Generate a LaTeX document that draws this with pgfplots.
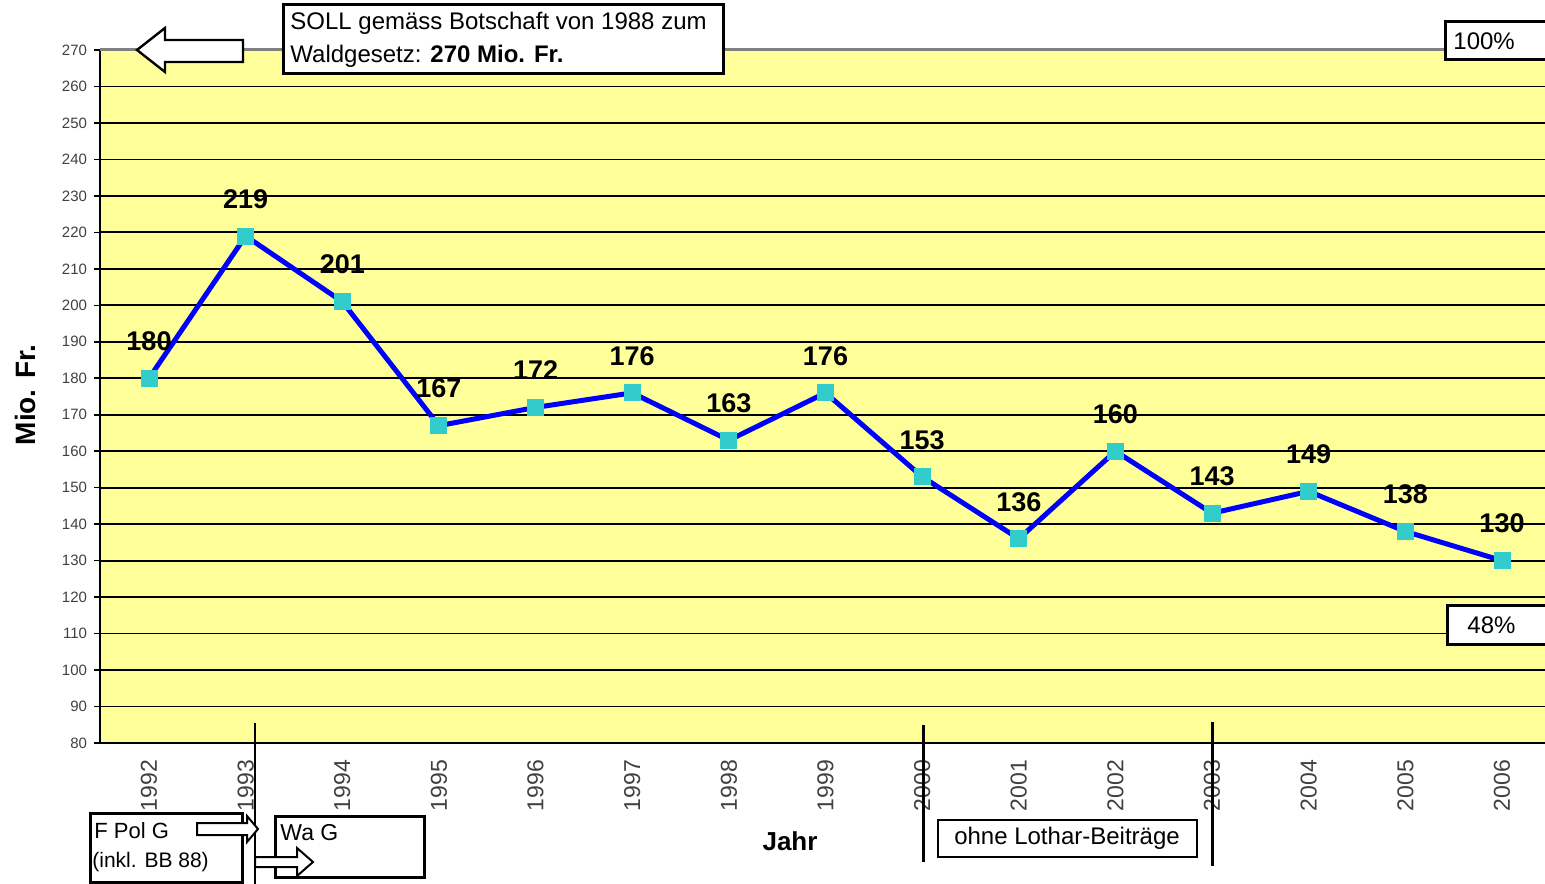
\documentclass[border=0pt]{standalone}
\usepackage{fontspec}
\setmainfont{Liberation Sans}
\usepackage{pgfplots}
\pgfplotsset{compat=1.18}
\definecolor{plotbg}{HTML}{FFFF99}
\definecolor{markcyan}{HTML}{33CCCC}
\definecolor{tickgray}{HTML}{404040}

\begin{document}
\begin{tikzpicture}
\useasboundingbox (0,0) rectangle (772.5pt,441.5pt);
\begin{axis}[
  at={(50pt,70pt)}, anchor=south west,
  width=722.5pt, height=346.5pt, scale only axis,
  xmin=1991.493, xmax=2006.445, ymin=80, ymax=270,
  axis background/.style={fill=plotbg},
  axis x line*=bottom, axis y line*=left,
  axis line style={-, black, line width=1pt},
  ytick={80,90,...,270}, xtick={1992,1993,...,2006},
  ymajorgrids, major grid style={black, line width=0.9pt},
  tick align=outside, major tick length=3pt,
  xtick style={draw=none}, ytick style={black, line width=0.8pt},
  y tick label style={font=\fontsize{7.5}{8}\selectfont, text=tickgray},
  x tick label style={rotate=90, anchor=east, xshift=-2pt, font=\fontsize{11.5}{12}\selectfont, text=tickgray},
  /pgf/number format/1000 sep={}, /pgf/number format/assume math mode=true,
  clip=false,
]
\draw[gray, line width=1.5pt] (axis cs:1991.493,270) -- (axis cs:2006.445,270);
\addplot[blue, line width=2.5pt, mark=square*, mark size=4pt,
  mark options={fill=markcyan, draw=markcyan, line width=0pt},
  nodes near coords,
  nodes near coords style={font=\bfseries\fontsize{13.5}{14}\selectfont, anchor=center, yshift=18.5pt, text=black}]
coordinates {
  (1992,180)(1993,219)(1994,201)(1995,167)(1996,172)(1997,176)(1998,163)(1999,176)
  (2000,153)(2001,136)(2002,160)(2003,143)(2004,149)(2005,138)(2006,130)
};
\end{axis}
\begin{scope}[x=0.5pt, y=-0.5pt, shift={(0pt,441.5pt)}]
  % top annotations
  \draw[line width=1.2pt, fill=white] (137,50) -- (165,28) -- (165,40) -- (243,40) -- (243,62) -- (165,62) -- (165,72) -- cycle;
  \draw[line width=1.5pt, fill=white] (283,5) rectangle (723,74);
  \node[anchor=west, align=left, inner sep=0, font=\fontsize{12}{16.5}\selectfont] at (290,40)
    {SOLL gemäss Botschaft von 1988 zum\\Waldgesetz: \textbf{270 Mio. Fr.}};
  \draw[line width=1.5pt, fill=white] (1445,22) rectangle (1570,60);
  \node[anchor=west, inner sep=0, font=\fontsize{12}{14}\selectfont] at (1453,41) {100\%};
  \draw[line width=1.5pt, fill=white] (1447,606) rectangle (1570,645);
  \node[anchor=west, inner sep=0, font=\fontsize{12}{14}\selectfont] at (1467,625) {48\%};
  % axis titles
  \node[rotate=90, font=\bfseries\fontsize{14}{16}\selectfont] at (25,395) {Mio. Fr.};
  \node[font=\bfseries\fontsize{13}{15}\selectfont] at (790,841) {Jahr};
  % bottom annotations
  \draw[line width=0.7pt] (255,723) -- (255,890);
  \draw[line width=1.5pt, fill=white] (90,813) rectangle (242,882);
  \node[anchor=west, inner sep=0, font=\fontsize{11}{13}\selectfont] at (94,831) {F Pol G};
  \node[anchor=west, inner sep=0, font=\fontsize{10.5}{12}\selectfont] at (92,862) {(inkl. BB 88)};
  \draw[line width=1pt, fill=white] (197,823) -- (247,823) -- (247,816) -- (258,829) -- (247,842) -- (247,835) -- (197,835) -- cycle;
  \draw[line width=1.5pt, fill=white] (275,816) rectangle (424,877);
  \node[anchor=west, inner sep=0, font=\fontsize{11.5}{13}\selectfont] at (280,833) {Wa G};
  \draw[line width=1pt, fill=white] (255,857) -- (297,857) -- (297,848) -- (313,862) -- (297,876) -- (297,867) -- (255,867) -- cycle;
  \draw[line width=1.5pt] (923,725) -- (923,862);
  \draw[line width=1.5pt] (1212,722) -- (1212,866);
  \draw[line width=1.2pt, fill=white] (938,820) rectangle (1197,857);
  \node[font=\fontsize{12}{14}\selectfont] at (1067,838) {ohne Lothar-Beiträge};
\end{scope}
\end{tikzpicture}
\end{document}
